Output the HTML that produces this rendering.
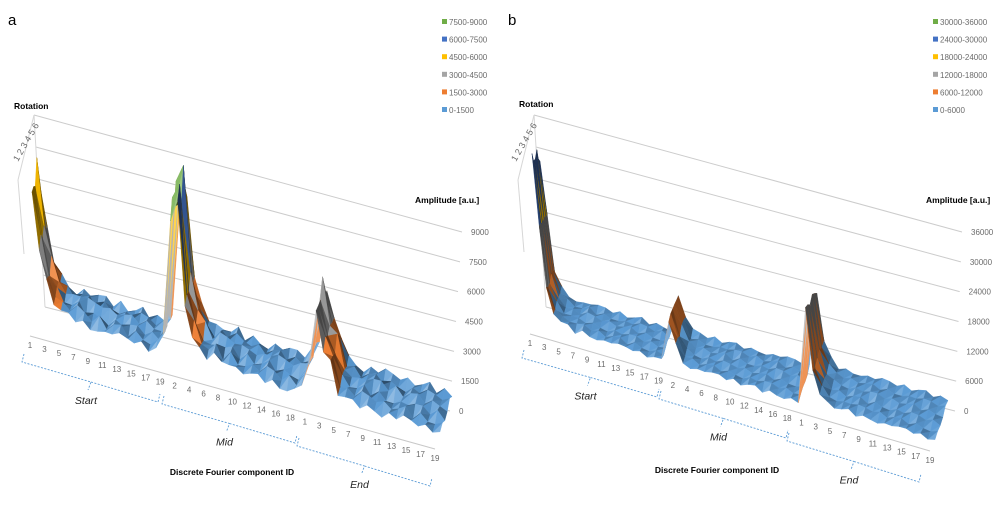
<!DOCTYPE html>
<html><head><meta charset="utf-8">
<style>
html,body{margin:0;padding:0;background:#fff;}
svg{display:block;font-family:"Liberation Sans",sans-serif;}
.t{fill:#6b6b6b;font-size:8px;}
.b{fill:#000;font-size:8.5px;font-weight:bold;}
</style></head>
<body>
<svg id="c" width="1004" height="511" viewBox="0 0 1004 511"></svg>
<script>
// ---------- data ----------
const components = ["Start","Mid","End"];
const rotations = [1,2,3,4,5,6];
const profileA = [6800,4300,2700,1900,1500,1300,1400,1200,1100,1200,1000,1100,1000,900,1000,900,850,900,1500,
                  7800,8600,3600,2200,1500,1100,1300,1000,1200,900,1000,900,800,900,800,700,750,700,1100,
                  2000,5000,3200,2600,1200,1000,800,900,800,850,700,750,650,700,600,650,550,600,500];
const profileB = [34000,21000,9000,5000,3500,3000,2500,2800,2500,2400,2200,2300,2100,2000,2100,1900,1800,1800,1500,
                  10000,5500,2500,2000,1800,1900,1700,1800,1600,1700,1500,1600,1500,1400,1500,1400,1300,1300,1000,
                  20000,8000,4000,2500,2200,2000,2100,1900,1800,1900,1700,1600,1700,1500,1600,1500,1400,1300,1200];
const rotScaleA = [0.95,1.0,0.9,1.05,0.85,0.8];
const rotScaleB = [1.0,0.95,0.9,0.92,0.85,0.8];
const ripple = [0.6,-0.8,0.9,-0.4,0.3,-0.9,0.7,-0.2,0.5,-0.7,0.8,-0.5,0.2];
const ticksA = [0,1500,3000,4500,6000,7500,9000];
const ticksB = [0,6000,12000,18000,24000,30000,36000];
const legendA = ["7500-9000","6000-7500","4500-6000","3000-4500","1500-3000","0-1500"];
const legendB = ["30000-36000","24000-30000","18000-24000","12000-18000","6000-12000","0-6000"];
const bandColors = ["#70ad47","#4472c4","#ffc000","#a5a5a5","#ed7d31","#5b9bd5"];
const xLabelsStart = ["1","3","5","7","9","11","13","15","17","19"];
const xLabelsMid = ["2","4","6","8","10","12","14","16","18"];
const xLabelsEnd = ["1","3","5","7","9","11","13","15","17","19"];

const NS="http://www.w3.org/2000/svg";
const svg=document.getElementById('c');
function el(tag,attrs,parent){const e=document.createElementNS(NS,tag);for(const k in attrs)e.setAttribute(k,attrs[k]);(parent||svg).appendChild(e);return e;}
function txt(x,y,s,cls,parent,anchor){const e=el('text',{x:x,y:y,class:cls,'text-anchor':anchor||'start'},parent);e.textContent=s;return e;}
function hexMix(h,f){const n=parseInt(h.slice(1),16);let r=n>>16,g=(n>>8)&255,b=n&255;
  if(f<0){r=r*(1+f);g=g*(1+f);b=b*(1+f);}else{r=r+(255-r)*f;g=g+(255-g)*f;b=b+(255-b)*f;}
  return 'rgb('+Math.round(r)+','+Math.round(g)+','+Math.round(b)+')';}

function panel(cfg){
  const g=el('g',{});
  
  
  const lab=txt(cfg.letter[0],cfg.letter[1],cfg.letterText,'',g);
  lab.setAttribute('style','font-size:15px;fill:#000');
  
  
  const max=cfg.ticks[cfg.ticks.length-1];
  const nI=cfg.profile.length, nR=rotations.length;
  const wl=cfg.wallL, wr=cfg.wallR;
  cfg.ticks.forEach((v,k)=>{
    const f=v/max;
    const x1=wl[0][0]+(wl[1][0]-wl[0][0])*f, y1=wl[0][1]+(wl[1][1]-wl[0][1])*f;
    const x2=wr[0][0]+(wr[1][0]-wr[0][0])*f, y2=wr[0][1]+(wr[1][1]-wr[0][1])*f;
    const ln=el('line',{x1:x1,y1:y1,x2:x2,y2:y2,stroke:'#cccccc','stroke-width':1},g);
    
    
    const t=txt(x2+9,y2+3,String(v),'t',g);
    
    
  });
  el('line',{x1:wl[0][0],y1:wl[0][1],x2:wl[1][0],y2:wl[1][1],stroke:'#d6d6d6'},g);
  el('line',{x1:wl[1][0]-16,y1:wl[1][1]+65,x2:wl[1][0],y2:wl[1][1],stroke:'#d6d6d6'},g);
  el('line',{x1:wl[1][0]-16,y1:wl[1][1]+65,x2:cfg.FL[0]-8,y2:cfg.FL[1]-80,stroke:'#d6d6d6'},g);
  const fa=el('line',{x1:cfg.axis[0][0],y1:cfg.axis[0][1]-12,x2:cfg.axis[1][0],y2:cfg.axis[1][1]-12,stroke:'#c8c8c8'},g);
  
  
  function P(i,r){
    const v=Math.max(0,Math.min(cfg.profile[i]*cfg.rot[r]+ripple[(i*3+r*5)%ripple.length]*cfg.rip,max));
    const fi=i/(nI-1), fr=r/(nR-1);
    const fx=cfg.FL[0]+(cfg.FR[0]-cfg.FL[0])*fi, fy=cfg.FL[1]+(cfg.FR[1]-cfg.FL[1])*fi;
    const bx=cfg.BL[0]+(cfg.BR[0]-cfg.BL[0])*fi, by=cfg.BL[1]+(cfg.BR[1]-cfg.BL[1])*fi;
    const sc=cfg.scL+(cfg.scR-cfg.scL)*fi;
    return [fx+(bx-fx)*fr, fy+(by-fy)*fr - v*sc, v];
  }
  const sg=el('g',{},g);
  
  
  const band=max/6;
  for(let r=nR-2;r>=0;r--){
    for(let i=0;i<nI-1;i++){
      const a=P(i,r),b=P(i+1,r),c=P(i+1,r+1),d=P(i,r+1);
      const tris=[[a,b,c],[a,c,d]];
      tris.forEach((tr,ti)=>{
        const avg=(tr[0][2]+tr[1][2]+tr[2][2])/3;
        const bi=Math.max(0,Math.min(5,Math.floor(avg/band)));
        const col=bandColors[5-bi];
        const dz=((tr[2][2]-tr[0][2])+(tr[1][2]-tr[0][2])*0.5)/band;
        let sh=(ti?-0.08:0.06) + Math.max(-0.5,Math.min(0.25,dz*0.9));
        const poly=el('polygon',{points:tr.map(p=>p[0].toFixed(1)+','+p[1].toFixed(1)).join(' '),
          fill:hexMix(col,sh),stroke:hexMix(col,sh),'stroke-width':0.4},sg);
        
        
      });
    }
  }
  const labs=[];
  xLabelsStart.forEach((s,k)=>labs.push([k*2,s]));
  xLabelsMid.forEach((s,k)=>labs.push([20+k*2,s]));
  xLabelsEnd.forEach((s,k)=>labs.push([38+k*2,s]));
  labs.forEach(([idx,s])=>{
    const f=idx/(nI-1);
    const x=cfg.axis[0][0]+(cfg.axis[1][0]-cfg.axis[0][0])*f, y=cfg.axis[0][1]+(cfg.axis[1][1]-cfg.axis[0][1])*f;
    const t=txt(x,y,s,'t',g,'middle');
    
    
  });
  cfg.brackets.forEach((bk,k)=>{
    const [x1,y1,x2,y2]=bk;
    const mx=(x1+x2)/2,my=(y1+y2)/2;
    const p=el('path',{d:`M${x1},${y1-8} L${x1-2},${y1} L${mx},${my} L${mx-3},${my+8} M${mx},${my} L${x2},${y2} L${x2+2},${y2-8}`,
      fill:'none',stroke:'#5b9bd5','stroke-width':0.9,'stroke-dasharray':'2,1.5'},g);
    
    
    const t=txt(mx-5,my+22,components[k],'',g,'middle');
    t.setAttribute('style','font-size:10.5px;fill:#222;font-style:italic');
    
    
  });
  const xt=txt(cfg.xTitle[0],cfg.xTitle[1],'Discrete Fourier component ID','b',g,'middle');
  
  
  const yt=txt(cfg.yTitle[0],cfg.yTitle[1],'Amplitude [a.u.]','b',g);
  
  
  const rt=txt(cfg.rTitle[0],cfg.rTitle[1],'Rotation','b',g);
  
  
  const rl=txt(0,0,rotations.join(' '),'t',g);
  rl.setAttribute('transform',`translate(${cfg.rLab[0]},${cfg.rLab[1]}) rotate(-60)`);
  rl.setAttribute('style','font-size:9px');
  
  
  cfg.legend.forEach((s,k)=>{
    const y=cfg.leg[1]+k*17.6;
    const r=el('rect',{x:cfg.leg[0],y:y-5,width:5,height:5,fill:bandColors[k]},g);
    
    
    const t=txt(cfg.leg[0]+7,y+1,s,'t',g);
    
    
  });
}

panel({name:'panel-a',letter:[8,25],letterText:'a',profile:profileA,rot:rotScaleA,rip:250,ticks:ticksA,legend:legendA,
  wallL:[[45,307],[34,115]],wallR:[[450,411],[462,232]],
  FL:[32,334],FR:[440,442],BL:[40,304],BR:[452,402],scL:0.0215,scR:0.0195,
  axis:[[30,348],[435,461]],
  brackets:[[24,362,158,402],[164,404,295,443],[299,446,430,486]],
  xTitle:[232,475],yTitle:[415,203],rTitle:[14,109],rLab:[18,162],leg:[442,24]});
panel({name:'panel-b',letter:[508,25],letterText:'b',profile:profileB,rot:rotScaleB,rip:500,ticks:ticksB,legend:legendB,
  wallL:[[546,307],[534,115]],wallR:[[955,411],[962,232]],
  FL:[532,332],FR:[935,446],BL:[540,303],BR:[948,404],scL:0.0052,scR:0.0049,
  axis:[[530,346],[930,463]],
  brackets:[[524,358,657,397],[661,399,786,438],[789,441,919,482]],
  xTitle:[717,473],yTitle:[926,203],rTitle:[519,107],rLab:[516,162],leg:[933,24]});
</script>
</body></html>
